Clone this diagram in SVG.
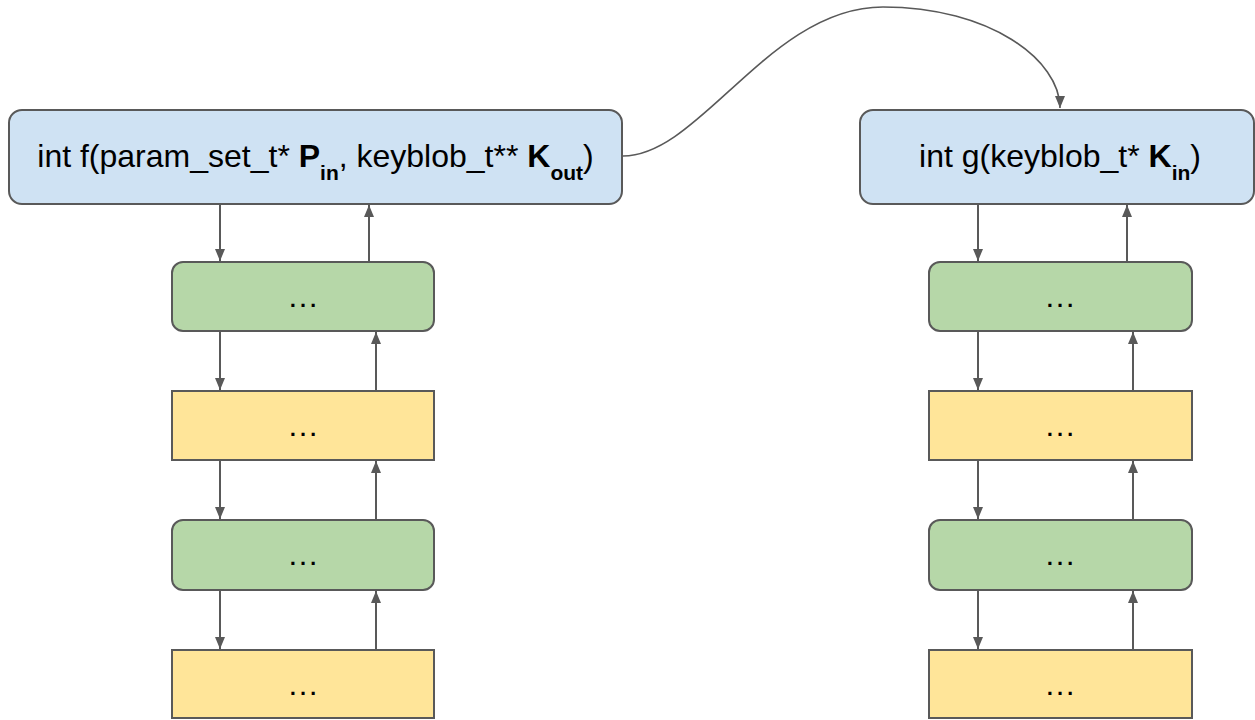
<svg xmlns="http://www.w3.org/2000/svg" width="1255" height="720" viewBox="0 0 1255 720">
  <style>
    .box { stroke: #595959; stroke-width: 2; }
    .fn { fill: #cfe2f3; }
    .green { fill: #b6d7a8; }
    .yellow { fill: #ffe599; }
    .label { font-family: "Liberation Sans", Arial, sans-serif; font-size: 32px; fill: #000; }
    .b { font-weight: bold; }
    .sub { font-weight: bold; font-size: 21px; }
    .dots { font-family: "Liberation Sans", Arial, sans-serif; font-size: 32px; fill: #000; text-anchor: middle; }
    .link { fill: none; stroke: #595959; stroke-width: 2; marker-end: url(#head); }
    .call { fill: none; stroke: #595959; stroke-width: 1.6; marker-end: url(#head); }
  </style>
  <defs>
    <marker id="head" markerUnits="userSpaceOnUse" markerWidth="12" markerHeight="14" refX="12" refY="5" orient="auto">
      <path d="M0,0 L12,5 L0,10 Z" fill="#595959"/>
    </marker>
  </defs>
  <rect width="1255" height="720" fill="#fff"/>

  <!-- connectors -->
  <g id="connectors">
    <path class="call" d="M623,156 C700,156 770,7 883,7 C990,7 1060,60 1060,108"/>
    <!-- left stack -->
    <line class="link" x1="220" y1="205" x2="220" y2="261"/>
    <line class="link" x1="369" y1="261" x2="369" y2="205"/>
    <line class="link" x1="220" y1="332" x2="220" y2="390"/>
    <line class="link" x1="376" y1="390" x2="376" y2="332"/>
    <line class="link" x1="220" y1="461" x2="220" y2="519"/>
    <line class="link" x1="376" y1="519" x2="376" y2="461"/>
    <line class="link" x1="220" y1="591" x2="220" y2="649"/>
    <line class="link" x1="376" y1="649" x2="376" y2="591"/>
    <!-- right stack -->
    <line class="link" x1="978" y1="205" x2="978" y2="261"/>
    <line class="link" x1="1127" y1="261" x2="1127" y2="205"/>
    <line class="link" x1="978" y1="332" x2="978" y2="390"/>
    <line class="link" x1="1133" y1="390" x2="1133" y2="332"/>
    <line class="link" x1="978" y1="461" x2="978" y2="519"/>
    <line class="link" x1="1133" y1="519" x2="1133" y2="461"/>
    <line class="link" x1="978" y1="591" x2="978" y2="649"/>
    <line class="link" x1="1133" y1="649" x2="1133" y2="591"/>
  </g>

  <!-- function f -->
  <g id="func-f">
    <rect class="box fn" x="9" y="110" width="613" height="94" rx="13"/>
    <text class="label" x="315.5" y="167" text-anchor="middle">int f(param_set_t* <tspan class="b">P</tspan><tspan class="sub" dy="13">in</tspan><tspan dy="-13">, keyblob_t** </tspan><tspan class="b">K</tspan><tspan class="sub" dy="13">out</tspan><tspan dy="-13">)</tspan></text>
  </g>

  <!-- function g -->
  <g id="func-g">
    <rect class="box fn" x="860" y="110" width="394" height="94" rx="13"/>
    <text class="label" x="1060" y="167" text-anchor="middle">int g(keyblob_t* <tspan class="b">K</tspan><tspan class="sub" dy="13">in</tspan><tspan dy="-13">)</tspan></text>
  </g>

  <!-- left call stack -->
  <g id="f-level1">
    <rect class="box green" x="172" y="262" width="262" height="69" rx="11"/>
    <text class="dots" x="303" y="307">…</text>
  </g>
  <g id="f-level2">
    <rect class="box yellow" x="172" y="391" width="262" height="69"/>
    <text class="dots" x="303" y="436">…</text>
  </g>
  <g id="f-level3">
    <rect class="box green" x="172" y="520" width="262" height="70" rx="11"/>
    <text class="dots" x="303" y="565">…</text>
  </g>
  <g id="f-level4">
    <rect class="box yellow" x="172" y="650" width="262" height="68"/>
    <text class="dots" x="303" y="695">…</text>
  </g>

  <!-- right call stack -->
  <g id="g-level1">
    <rect class="box green" x="929" y="262" width="263" height="69" rx="11"/>
    <text class="dots" x="1060" y="307">…</text>
  </g>
  <g id="g-level2">
    <rect class="box yellow" x="929" y="391" width="263" height="69"/>
    <text class="dots" x="1060" y="436">…</text>
  </g>
  <g id="g-level3">
    <rect class="box green" x="929" y="520" width="263" height="70" rx="11"/>
    <text class="dots" x="1060" y="565">…</text>
  </g>
  <g id="g-level4">
    <rect class="box yellow" x="929" y="650" width="263" height="68"/>
    <text class="dots" x="1060" y="695">…</text>
  </g>
</svg>
